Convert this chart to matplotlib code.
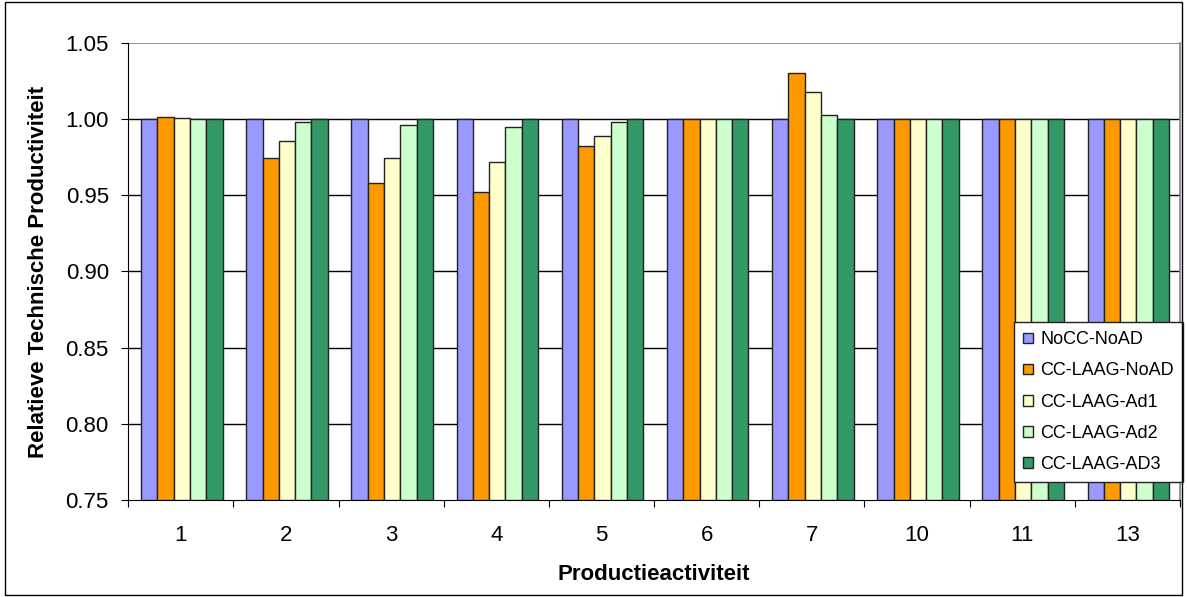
import numpy as np
import matplotlib
matplotlib.use("Agg")
from matplotlib import pyplot as plt
from matplotlib.patches import Rectangle

plt.rcParams['font.family'] = ['Liberation Sans', 'DejaVu Sans']

# Data
categories = ['1', '2', '3', '4', '5', '6', '7', '10', '11', '13']
series_names = ['NoCC-NoAD', 'CC-LAAG-NoAD', 'CC-LAAG-Ad1', 'CC-LAAG-Ad2', 'CC-LAAG-AD3']
nocc_noad = [1.000, 1.000, 1.000, 1.000, 1.000, 1.000, 1.000, 1.000, 1.000, 1.000]
cc_noad = [1.0015, 0.9746, 0.958, 0.952, 0.9825, 1.000, 1.030, 1.000, 1.000, 1.000]
cc_ad1 = [1.001, 0.9856, 0.9746, 0.972, 0.989, 1.000, 1.018, 1.000, 1.000, 1.000]
cc_ad2 = [1.000, 0.998, 0.996, 0.995, 0.998, 1.000, 1.003, 1.000, 1.000, 1.000]
cc_ad3 = [1.000, 1.000, 1.000, 1.000, 1.000, 1.000, 1.000, 1.000, 1.000, 1.000]
colors = ['#9999ff', '#ff9900', '#ffffcc', '#ccffcc', '#339966']

series = [nocc_noad, cc_noad, cc_ad1, cc_ad2, cc_ad3]

fig = plt.figure(figsize=(11.87, 5.97), dpi=100)
# outer frame of the chart
fig.patches.append(Rectangle((0.004, 0.004), 0.992, 0.992, transform=fig.transFigure,
                             fill=False, edgecolor='black', linewidth=1))
ax = fig.add_axes([0.108, 0.1625, 0.886, 0.7655])

x = np.arange(len(categories))
w = 0.155
bottom = 0.75
for i, (vals, name, c) in enumerate(zip(series, series_names, colors)):
    h = np.array(vals) - bottom
    ax.bar(x + (i - 2) * w + 0.01, h, w, bottom=bottom, color=c,
           edgecolor='#222222', linewidth=1, label=name, zorder=3)

ax.set_xlim(-0.5, len(categories) - 0.5)
ax.set_ylim(0.75, 1.05)
ax.set_yticks(np.arange(0.75, 1.051, 0.05))
ax.set_yticklabels(['%.2f' % v for v in np.arange(0.75, 1.051, 0.05)], fontsize=16)

# gridlines
for v in np.arange(0.80, 1.01, 0.05):
    ax.axhline(v, color='black', linewidth=1, zorder=1)
ax.axhline(1.05, color='#808080', linewidth=1.2, zorder=1)

# x ticks at the group boundaries, labels in the middle
ax.set_xticks(np.arange(-0.5, len(categories) - 0.4, 1))
ax.set_xticklabels([])
ax.set_xticks(x, minor=True)
ax.set_xticklabels(categories, minor=True, fontsize=16)
ax.tick_params(axis='x', which='minor', length=0, pad=18)
ax.tick_params(axis='x', which='major', length=5, direction='out', color='black')
ax.tick_params(axis='y', length=5, direction='out', pad=9)

ax.spines['top'].set_visible(False)
ax.spines['right'].set_color('#808080')
ax.spines['right'].set_linewidth(1.2)

ax.set_xlabel('Productieactiviteit', fontsize=16, fontweight='bold', labelpad=13)
ax.set_ylabel('Relatieve Technische Productiviteit', fontsize=16, fontweight='bold', labelpad=12)

leg = ax.legend(loc='lower right', bbox_to_anchor=(1.003, 0.04), fontsize=13,
                handlelength=0.55, handleheight=0.55, handletextpad=0.4,
                labelspacing=0.78, borderpad=0.5, fancybox=False, framealpha=1,
                edgecolor='#222222', borderaxespad=0)
leg.get_frame().set_linewidth(1)
leg.set_zorder(5)

plt.savefig('out.png', dpi=100)
